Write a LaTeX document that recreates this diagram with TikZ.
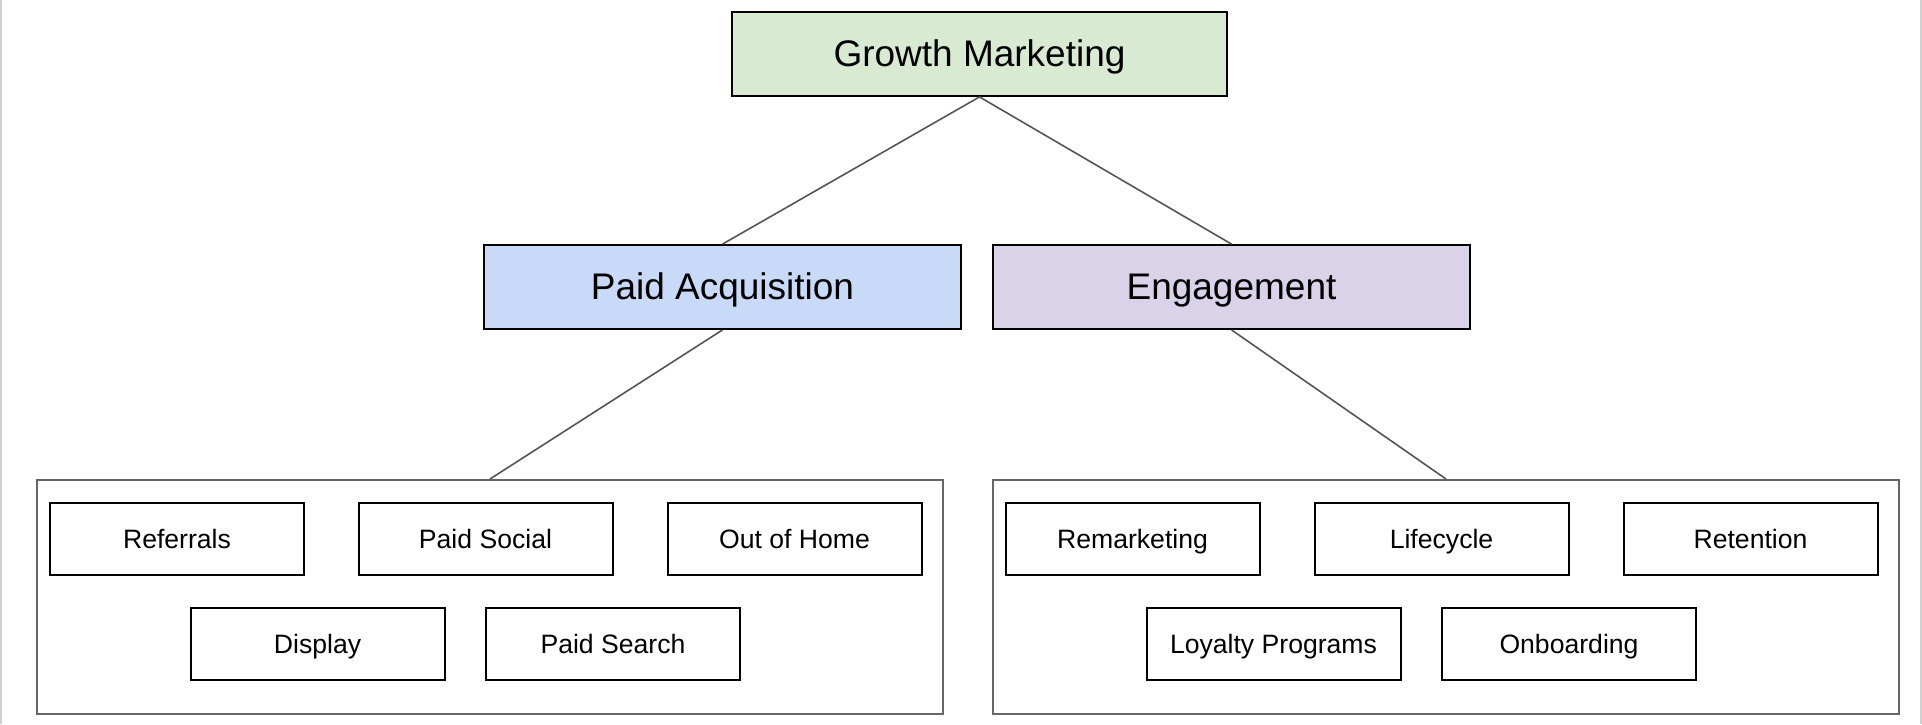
\documentclass[tikz,border=0pt]{standalone}
\usepackage{fontspec}
\setmainfont{Liberation Sans}
\definecolor{gmfill}{HTML}{D9EAD3}
\definecolor{pafill}{HTML}{C9DAF8}
\definecolor{engfill}{HTML}{D9D2E9}
\definecolor{contgray}{HTML}{666666}
\definecolor{linkgray}{HTML}{555555}
\definecolor{edgegray}{HTML}{D0D0D0}
\tikzset{
  bigtext/.style={font=\fontsize{37}{44}\selectfont, text height=33.5pt, text depth=7.8pt},
  smalltext/.style={font=\fontsize{26.6}{32}\selectfont, text height=24.1pt, text depth=5.6pt},
  topbox/.style={draw=black, line width=1.8pt, minimum width=495pt, minimum height=84pt, inner sep=0pt, bigtext},
  midbox/.style={draw=black, line width=1.8pt, minimum width=477pt, minimum height=84pt, inner sep=0pt, bigtext},
  container/.style={draw=contgray, line width=2pt, minimum width=906pt, minimum height=234pt, inner sep=0pt},
  leaf/.style={draw=black, line width=2pt, fill=white, minimum width=254pt, minimum height=72pt, inner sep=0pt, smalltext},
  link/.style={draw=linkgray, line width=1.6pt}
}
\begin{document}
\begin{tikzpicture}[x=1pt,y=-1pt]
\useasboundingbox (0,0) rectangle (1922,724);
\fill[white] (0,0) rectangle (1922,724);
\fill[edgegray] (0,0) rectangle (2,724);
\fill[edgegray] (1920,0) rectangle (1922,724);

\node[topbox, fill=gmfill] (gm) at (979.5,54) {Growth Marketing};
\node[midbox, fill=pafill] (pa) at (722.5,287) {Paid Acquisition};
\node[midbox, fill=engfill] (eng) at (1231.5,287) {Engagement};

\node[container] (lc) at (490,597) {};
\node[container] (rc) at (1446,597) {};

\node[leaf] (ref) at (177,539) {Referrals};
\node[leaf] (ps) at (485.5,539) {Paid Social};
\node[leaf] (ooh) at (794.5,539) {Out of Home};
\node[leaf] (disp) at (317.5,644) {Display};
\node[leaf] (psearch) at (613,644) {Paid Search};

\node[leaf] (rem) at (1132.5,539) {Remarketing};
\node[leaf] (life) at (1441.5,539) {Lifecycle};
\node[leaf] (ret) at (1750.5,539) {Retention};
\node[leaf] (loy) at (1273.5,644) {Loyalty Programs};
\node[leaf] (onb) at (1569,644) {Onboarding};

\draw[link] (gm.south) -- (pa.north);
\draw[link] (gm.south) -- (eng.north);
\draw[link] (pa.south) -- (lc.north);
\draw[link] (eng.south) -- (rc.north);
\end{tikzpicture}
\end{document}
